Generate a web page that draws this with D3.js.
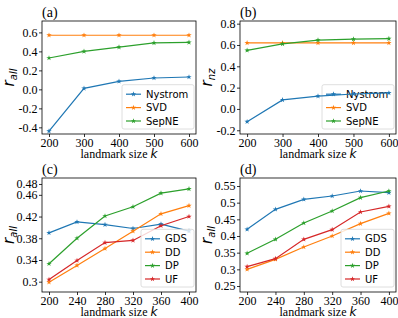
<!DOCTYPE html>
<html lang="en">
<head>
  <meta charset="UTF-8">
  <script src="https://cdn.jsdelivr.net/npm/d3@7"></script>
  <title>Landmark size panels</title>
  <style>
    body { margin: 0; background: #fff; }
    .domain { display: none; }
    .tick line { stroke: #000; stroke-width: 0.8; }
  </style>
</head>
<body>
<script>
  // x values
  const kAB = [200, 300, 400, 500, 600];
  const kCD = [200, 240, 280, 320, 360, 400];

  // (a) r_all
  const nystromA = [-0.44, 0.01, 0.085, 0.12, 0.13];
  const svdA = [0.57, 0.57, 0.57, 0.57, 0.57];
  const sepneA = [0.33, 0.40, 0.445, 0.49, 0.495];
  // (b) r_nz
  const nystromB = [-0.12, 0.085, 0.12, 0.14, 0.15];
  const svdB = [0.62, 0.62, 0.62, 0.62, 0.62];
  const sepneB = [0.55, 0.61, 0.645, 0.655, 0.66];
  // (c)
  const gdsC = [0.39, 0.41, 0.405, 0.398, 0.406, 0.393];
  const ddC = [0.299, 0.33, 0.361, 0.393, 0.425, 0.44];
  const dpC = [0.333, 0.38, 0.421, 0.438, 0.463, 0.471];
  const ufC = [0.304, 0.339, 0.372, 0.376, 0.403, 0.42];
  // (d)
  const gdsD = [0.42, 0.48, 0.51, 0.52, 0.535, 0.53];
  const ddD = [0.30, 0.33, 0.367, 0.40, 0.437, 0.468];
  const dpD = [0.348, 0.39, 0.439, 0.475, 0.515, 0.535];
  const ufD = [0.308, 0.332, 0.39, 0.419, 0.472, 0.489];

  // tick values
  const yTicksA = [-0.4, -0.2, 0.0, 0.2, 0.4, 0.6];
  const yTicksB = [-0.2, 0.0, 0.2, 0.4, 0.6, 0.8];
  const yTicksC = [0.3, 0.34, 0.38, 0.42, 0.46, 0.48];
  const yTicksD = [0.25, 0.3, 0.35, 0.4, 0.45, 0.5, 0.55];

  const blue = "#1f77b4", orange = "#ff7f0e", green = "#2ca02c", red = "#d62728";
  const serif = "'Liberation Serif', 'Times New Roman', serif";
  const sans = "'DejaVu Sans', sans-serif";

  const panels = [
    { tag: "(a)", box: [42, 21, 154, 113], xs: kAB, xdom: [180, 620], ydom: [-0.47, 0.72],
      yticks: yTicksA, fmt: d => d.toFixed(1), sub: "all",
      series: [["Nystrom", nystromA, blue], ["SVD", svdA, orange], ["SepNE", sepneA, green]] },
    { tag: "(b)", box: [240, 21, 156, 113], xs: kAB, xdom: [180, 620], ydom: [-0.235, 0.825],
      yticks: yTicksB, fmt: d => d.toFixed(1), sub: "nz", lineOnTop: true,
      series: [["Nystrom", nystromB, blue], ["SVD", svdB, orange], ["SepNE", sepneB, green]] },
    { tag: "(c)", box: [42, 178, 154, 114], xs: kCD, xdom: [190, 410], ydom: [0.281, 0.491],
      yticks: yTicksC, fmt: d => String(+d.toFixed(2)), sub: "all",
      series: [["GDS", gdsC, blue], ["DD", ddC, orange], ["DP", dpC, green], ["UF", ufC, red]] },
    { tag: "(d)", box: [240, 178, 156, 114], xs: kCD, xdom: [190, 410], ydom: [0.232, 0.574],
      yticks: yTicksD, fmt: d => String(+d.toFixed(2)), sub: "all",
      series: [["GDS", gdsD, blue], ["DD", ddD, orange], ["DP", dpD, green], ["UF", ufD, red]] }
  ];

  const svg = d3.select("body").append("svg")
    .attr("width", 398).attr("height", 318);

  const star = d3.symbol().type(d3.symbolStar).size(9);

  panels.forEach(p => {
    const [left, top, w, h] = p.box;
    const x = d3.scaleLinear().domain(p.xdom).range([left, left + w]);
    const y = d3.scaleLinear().domain(p.ydom).range([top + h, top]);
    const g = svg.append("g");

    // axes
    g.append("g").attr("transform", `translate(0,${top + h})`)
      .call(d3.axisBottom(x).tickValues(p.xs).tickSize(3).tickPadding(1))
      .attr("font-family", serif).attr("font-size", 12);
    g.append("g").attr("transform", `translate(${left},0)`)
      .call(d3.axisLeft(y).tickValues(p.yticks).tickFormat(p.fmt).tickSize(3).tickPadding(1.5))
      .attr("font-family", serif).attr("font-size", 12);

    const drawLines = () => {
      const lines = g.append("g");
      p.series.forEach(([name, vals, col]) => {
        const pts = vals.map((v, i) => [p.xs[i], v]);
        lines.append("path").datum(pts)
          .attr("d", d3.line().x(d => x(d[0])).y(d => y(d[1])))
          .attr("fill", "none").attr("stroke", col).attr("stroke-width", 1.2);
        lines.selectAll(null).data(pts).join("path")
          .attr("d", star).attr("fill", col)
          .attr("transform", d => `translate(${x(d[0])},${y(d[1])})`);
      });
    };

    const drawLegend = () => {
      const n = p.series.length;
      const step = 13.4;
      const fw = n === 3 ? 72 : 53;
      const fr = left + w - 2;
      const fb = top + h - 5;
      const fh = (n - 1) * step + 17.5;
      const fl = fr - fw;
      const ft = fb - fh;
      const lg = g.append("g");
      lg.append("rect").attr("x", fl).attr("y", ft).attr("width", fw).attr("height", fh)
        .attr("rx", 2).attr("fill", "#fff").attr("fill-opacity", 0.8)
        .attr("stroke", "#d6d6d6").attr("stroke-width", 0.8);
      p.series.forEach(([name, , col], i) => {
        const cy = ft + 9.5 + i * step;
        lg.append("line").attr("x1", fl + 4).attr("x2", fl + 19).attr("y1", cy).attr("y2", cy)
          .attr("stroke", col).attr("stroke-width", 1.2);
        lg.append("path").attr("d", star).attr("fill", col)
          .attr("transform", `translate(${fl + 11.5},${cy})`);
        lg.append("text").attr("x", fl + 24).attr("y", cy + 3.6)
          .attr("font-family", sans).attr("font-size", 10)
          .text(name);
      });
    };

    if (p.lineOnTop) { drawLegend(); drawLines(); } else { drawLines(); drawLegend(); }

    // frame
    g.append("rect").attr("x", left).attr("y", top).attr("width", w).attr("height", h)
      .attr("fill", "none").attr("stroke", "#000").attr("stroke-width", 0.8);

    // panel tag
    g.append("text").attr("x", left).attr("y", top - 4)
      .attr("font-family", serif).attr("font-size", 14)
      .text(p.tag);

    // x label
    const xl = g.append("text").attr("x", left + w / 2).attr("y", top + h + 23.5)
      .attr("text-anchor", "middle")
      .attr("font-family", serif).attr("font-size", 12);
    xl.append("tspan").text("landmark size ");
    xl.append("tspan").attr("font-family", sans)
      .attr("font-style", "italic").text("k");

    // y label
    const cy = top + h / 2;
    const yl = g.append("text")
      .attr("transform", `translate(${left - 28},${cy}) rotate(-90)`)
      .attr("text-anchor", "middle")
      .attr("font-family", sans).attr("font-style", "italic");
    yl.append("tspan").attr("font-size", 15).text("r");
    yl.append("tspan").attr("font-size", 10).attr("dy", 3).text(p.sub);
  });
</script>
</body>
</html>
